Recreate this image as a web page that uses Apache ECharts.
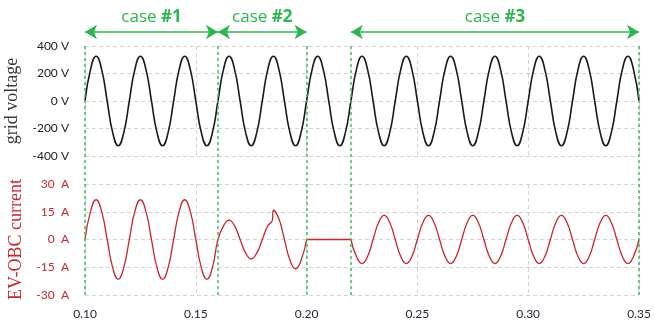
<!DOCTYPE html>
<html><head><meta charset="utf-8">
<script src="https://cdn.jsdelivr.net/npm/echarts@6/dist/echarts.min.js"></script>
<style>html,body{margin:0;padding:0;background:#fff}#c{width:654px;height:331px}</style>
</head><body><div id="c"></div>
<script>
// ---- data ----
const vTime = [0.1000,0.1025,0.1050,0.1075,0.1100,0.1125,0.1150,0.1175,0.1200,0.1225,0.1250,0.1275,0.1300,0.1325,0.1350,0.1375,0.1400,0.1425,0.1450,0.1475,0.1500,0.1525,0.1550,0.1575,0.1600,0.1625,0.1650,0.1675,0.1700,0.1725,0.1750,0.1775,0.1800,0.1825,0.1850,0.1875,0.1900,0.1925,0.1950,0.1975,0.2000,0.2025,0.2050,0.2075,0.2100,0.2125,0.2150,0.2175,0.2200,0.2225,0.2250,0.2275,0.2300,0.2325,0.2350,0.2375,0.2400,0.2425,0.2450,0.2475,0.2500,0.2525,0.2550,0.2575,0.2600,0.2625,0.2650,0.2675,0.2700,0.2725,0.2750,0.2775,0.2800,0.2825,0.2850,0.2875,0.2900,0.2925,0.2950,0.2975,0.3000,0.3025,0.3050,0.3075,0.3100,0.3125,0.3150,0.3175,0.3200,0.3225,0.3250,0.3275,0.3300,0.3325,0.3350,0.3375,0.3400,0.3425,0.3450,0.3475,0.3500];
const gridVoltage = [0,230,325,230,0,-230,-325,-230, 0,230,325,230,0,-230,-325,-230, 0,230,325,230,0,-230,-325,-230, 0,230,325,230,0,-230,-325,-230, 0,230,325,230,0,-230,-325,-230, 0,230,325,230,0,-230,-325,-230, 0,230,325,230,0,-230,-325,-230, 0,230,325,230,0,-230,-325,-230, 0,230,325,230,0,-230,-325,-230, 0,230,325,230,0,-230,-325,-230, 0,230,325,230,0,-230,-325,-230, 0,230,325,230,0,-230,-325,-230, 0,230,325,230,0];

// current, cases #1 and #2
const iTimeA = [0.1000,0.1025,0.1050,0.1075,0.1100,0.1125,0.1150,0.1175,0.1200,0.1225,0.1250,0.1275,0.1300,0.1325,0.1350,0.1375,0.1400,0.1425,0.1450,0.1475,0.1500,0.1525,0.1550,0.1575,0.1600,0.1625,0.1650,0.1675,0.1700,0.1725,0.1750,0.1775,0.1800,0.1825,0.1845,0.1850,0.1875,0.1900,0.1925,0.1950,0.1975,0.2000];
const iValA = [0,15.2,21.5,15.2,0,-15.2,-21.5,-15.2, 0,15.2,21.5,15.2,0,-15.2,-21.5,-15.2, 0,15.2,21.5,15.2,0,-15.2,-21.5,-15.2, 0,7.4,10.5,7.4,0,-7.4,-10.5,-7.4, 0,7.4,10.2,15.8,11.2,0,-11.2,-15.8,-11.2,0];
// current, idle gap
const iTimeB = [0.2000,0.2200];
const iValB = [0,0];
// current, case #3
const iTimeC = [0.2200,0.2225,0.2250,0.2275,0.2300,0.2325,0.2350,0.2375,0.2400,0.2425,0.2450,0.2475,0.2500,0.2525,0.2550,0.2575,0.2600,0.2625,0.2650,0.2675,0.2700,0.2725,0.2750,0.2775,0.2800,0.2825,0.2850,0.2875,0.2900,0.2925,0.2950,0.2975,0.3000,0.3025,0.3050,0.3075,0.3100,0.3125,0.3150,0.3175,0.3200,0.3225,0.3250,0.3275,0.3300,0.3325,0.3350,0.3375,0.3400,0.3425,0.3450,0.3475,0.3500];
const iValC = [0,-9.2,-13,-9.2,0,9.2,13,9.2, 0,-9.2,-13,-9.2,0,9.2,13,9.2, 0,-9.2,-13,-9.2,0,9.2,13,9.2, 0,-9.2,-13,-9.2,0,9.2,13,9.2, 0,-9.2,-13,-9.2,0,9.2,13,9.2, 0,-9.2,-13,-9.2,0,9.2,13,9.2, 0,-9.2,-13,-9.2,0];

const xTicks = [0.10,0.15,0.20,0.25,0.30,0.35];
const caseBounds = [0.10,0.16,0.20,0.22,0.35];
const cases = [{name:'#1', from:0.10, to:0.16},{name:'#2', from:0.16, to:0.20},{name:'#3', from:0.22, to:0.35}];

// ---- chart ----
const zip = (t, v) => t.map((x, i) => [x, v[i]]);
const GREEN = '#2db552';
const RED = '#c8262c';
const gridSplit = {show:true, lineStyle:{color:'#d4d4d4', type:[4,3], width:1}};
const L = 85, R = 15;
const xBase = {type:'value', min:0.10, max:0.35, interval:0.05, axisLine:{show:false}, axisTick:{show:false}};
const g = (top, height) => ({left:L, right:R, top:top, height:height, containLabel:false, outerBoundsMode:'none'});

const option = {
  animation:false,
  grid:[g(46,110), g(184,111), g(43,252), g(22,20)],
  xAxis:[
    Object.assign({}, xBase, {gridIndex:0, axisLabel:{show:false}, splitLine:gridSplit}),
    Object.assign({}, xBase, {gridIndex:1, splitLine:gridSplit,
      axisLabel:{show:true, margin:13, color:'#1e2330', fontFamily:'Lato', fontSize:12,
        formatter:v => v.toFixed(2)}}),
    Object.assign({}, xBase, {gridIndex:2, show:false}),
    Object.assign({}, xBase, {gridIndex:3, show:false})
  ],
  yAxis:[
    {type:'value', gridIndex:0, min:-400, max:400, interval:200,
     axisLine:{show:false}, axisTick:{show:false}, splitLine:gridSplit,
     axisLabel:{formatter:'{value} V', color:'#222', fontFamily:'Lato', fontSize:12, margin:16},
     name:'grid voltage', nameLocation:'middle', nameGap:55, nameRotate:90,
     nameTextStyle:{fontFamily:'Liberation Serif', fontSize:18, color:'#3a3a3a'}},
    {type:'value', gridIndex:1, min:-30, max:30, interval:15,
     axisLine:{show:false}, axisTick:{show:false}, splitLine:gridSplit,
     axisLabel:{formatter:'{value}  A', color:RED, fontFamily:'Lato', fontSize:12, margin:16},
     name:'EV-OBC current', nameLocation:'middle', nameGap:59, nameRotate:90,
     nameTextStyle:{fontFamily:'Liberation Serif', fontSize:18, color:RED}},
    {type:'value', gridIndex:2, min:0, max:1, show:false},
    {type:'value', gridIndex:3, min:0, max:1, show:false}
  ],
  series:[
    {type:'line', xAxisIndex:0, yAxisIndex:0, data:zip(vTime, gridVoltage), smooth:0.5,
     showSymbol:false, lineStyle:{color:'#1a1a1a', width:1.6}, z:3},
    {type:'line', xAxisIndex:1, yAxisIndex:1, data:zip(iTimeA, iValA), smooth:0.5,
     showSymbol:false, lineStyle:{color:RED, width:1.3}, z:3},
    {type:'line', xAxisIndex:1, yAxisIndex:1, data:zip(iTimeB, iValB),
     showSymbol:false, lineStyle:{color:RED, width:1.3}, z:3},
    {type:'line', xAxisIndex:1, yAxisIndex:1, data:zip(iTimeC, iValC), smooth:0.5,
     showSymbol:false, lineStyle:{color:RED, width:1.3}, z:3},
    {type:'line', xAxisIndex:2, yAxisIndex:2, data:[], z:4,
     markLine:{silent:true, symbol:['none','none'], label:{show:false},
       lineStyle:{color:'#3cbf5e', type:[3,3], width:1.5},
       data:caseBounds.map(x => ({xAxis:x}))}},
    {type:'line', xAxisIndex:3, yAxisIndex:3, data:[], z:4,
     markLine:{silent:true, symbol:['arrow','arrow'], symbolSize:[11,12],
       lineStyle:{color:GREEN, type:'solid', width:1.5},
       label:{show:true, position:'insideMiddleTop', distance:6,
         rich:{a:{fontFamily:'Open Sans', fontSize:17, color:GREEN},
               b:{fontFamily:'Open Sans', fontSize:17, fontWeight:'bold', color:GREEN}}},
       data:cases.map(c => [
         {coord:[c.from,0.5], label:{formatter:'{a|case }{b|' + c.name + '}'}},
         {coord:[c.to,0.5]}
       ])}}
  ]
};
const chart = echarts.init(document.getElementById('c'), null, {renderer:'canvas'});
chart.setOption(option);
</script>
</body></html>
